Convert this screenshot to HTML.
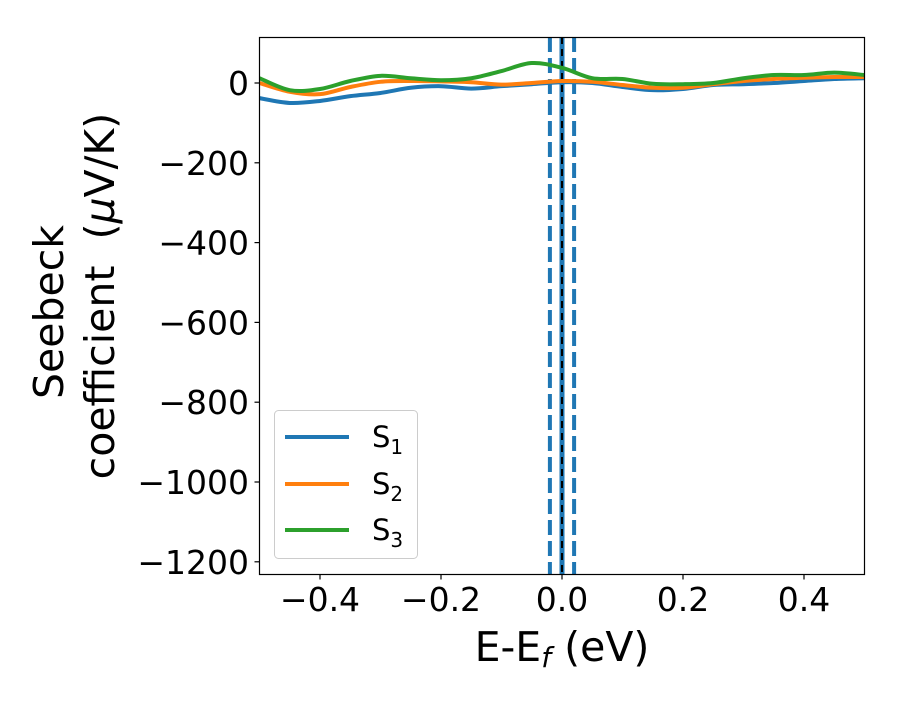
<!DOCTYPE html>
<html><head><meta charset="utf-8"><style>
body{margin:0;background:#fff;}
svg text{font-family:"DejaVu Sans","Liberation Sans",sans-serif;fill:#000;}
</style></head><body>
<svg id="chart" width="900" height="700">
<g id="yticks"></g>
<g id="xticks"></g>
<defs><clipPath id="clip"><rect x="259.5" y="37.5" width="605" height="537"/></clipPath></defs>
<g id="vlines" clip-path="url(#clip)"></g>
<g id="series" clip-path="url(#clip)"></g>
<rect x="259.5" y="37.5" width="605" height="537" fill="none" stroke="#000" stroke-width="1.2"/>
<text x="562" y="661" font-size="41" text-anchor="middle">E-E<tspan font-style="italic" font-size="28" dy="6">f</tspan><tspan dy="-6"> (eV)</tspan></text>
<text transform="translate(63,312) rotate(-90)" font-size="41" text-anchor="middle">Seebeck</text>
<text transform="translate(114,296) rotate(-90)" font-size="41" text-anchor="middle" xml:space="preserve">coefficient  (<tspan font-style="italic">μ</tspan>V/K)</text>
<g>
<rect x="274.5" y="410.5" width="143" height="148" rx="4" fill="#fff" fill-opacity="0.8" stroke="#ccc"/>
<line x1="285" y1="437" x2="349" y2="437" stroke="#1f77b4" stroke-width="4"/>
<text x="372" y="447" font-size="29">S<tspan font-size="20" dy="7">1</tspan></text>
<line x1="285" y1="484" x2="349" y2="484" stroke="#ff7f0e" stroke-width="4"/>
<text x="372" y="494" font-size="29">S<tspan font-size="20" dy="7">2</tspan></text>
<line x1="285" y1="530" x2="349" y2="530" stroke="#2ca02c" stroke-width="4"/>
<text x="372" y="540" font-size="29">S<tspan font-size="20" dy="7">3</tspan></text>
</g>
</svg>
<script>
const xValues=[-0.5,-0.45,-0.4,-0.35,-0.3,-0.25,-0.2,-0.15,-0.1,-0.05,0,0.05,0.1,0.15,0.2,0.25,0.3,0.35,0.4,0.45,0.5];
const s1=[-38,-50,-45,-33,-25,-12,-8,-14,-8,-3,2,0,-10,-18,-15,-5,-3,0,5,10,12];
const s2=[0,-22,-28,-10,3,5,4,2,-4,0,5,3,-5,-12,-12,-3,5,10,13,15,15];
const s3=[12,-18,-15,5,18,12,7,12,30,50,38,12,10,-2,-3,0,12,20,20,26,20];
const yTicks=[0,-200,-400,-600,-800,-1000,-1200];
const xTicks=[-0.4,-0.2,0,0.2,0.4];
const vLines=[-0.02,0.02];
const X=v=>259.5+(v+0.5)*605;
const Y=v=>83-v*0.399;
const NS='http://www.w3.org/2000/svg';
function mk(tag,attrs,parent){const e=document.createElementNS(NS,tag);for(const k in attrs)e.setAttribute(k,attrs[k]);parent.appendChild(e);return e;}
const fmt=v=>(v<0?'\u2212':'')+Math.abs(v);
const yg=document.getElementById('yticks');
yTicks.forEach(t=>{const y=Y(t);
 const l=mk('line',{x1:254.5,x2:259.5,y1:y,y2:y,stroke:'#000','stroke-width':1.2},yg);
 
 
 const tx=mk('text',{x:249,y:y+12,'font-size':33,'text-anchor':'end'},yg);tx.textContent=fmt(t);
 
 });
const xg=document.getElementById('xticks');
xTicks.forEach(t=>{const x=X(t);
 const l=mk('line',{x1:x,x2:x,y1:574.5,y2:579.5,stroke:'#000','stroke-width':1.2},xg);
 
 
 const tx=mk('text',{x:x,y:611,'font-size':33,'text-anchor':'middle'},xg);tx.textContent=(t<0?'\u2212':'')+Math.abs(t).toFixed(1);
 
 });
const vg=document.getElementById('vlines');
vLines.forEach(v=>{const l=mk('line',{x1:X(v),x2:X(v),y1:37,y2:575,stroke:'#1f77b4','stroke-width':4,'stroke-dasharray':'15,6'},vg);
 
 });
let l0=mk('line',{x1:X(0),x2:X(0),y1:37,y2:575,stroke:'#1f77b4','stroke-width':5},vg);


l0=mk('line',{x1:X(0),x2:X(0),y1:37,y2:575,stroke:'#000','stroke-width':2,'stroke-dasharray':'7,5'},vg);


function path(vals){const p=xValues.map((x,i)=>[X(x),Y(vals[i])]);let d='M'+p[0][0]+','+p[0][1];
 for(let i=0;i<p.length-1;i++){const a=p[i-1]||p[i],b=p[i],c=p[i+1],e=p[i+2]||c;
 d+=` C${b[0]+(c[0]-a[0])/6},${b[1]+(c[1]-a[1])/6} ${c[0]-(e[0]-b[0])/6},${c[1]-(e[1]-b[1])/6} ${c[0]},${c[1]}`;}return d;}
const sg=document.getElementById('series');
[[s1,'#1f77b4','series-s1'],[s2,'#ff7f0e','series-s2'],[s3,'#2ca02c','series-s3']].forEach(([v,c,n])=>{
 const p=mk('path',{d:path(v),fill:'none',stroke:c,'stroke-width':4},sg);
 
 });
</script>
</body></html>
